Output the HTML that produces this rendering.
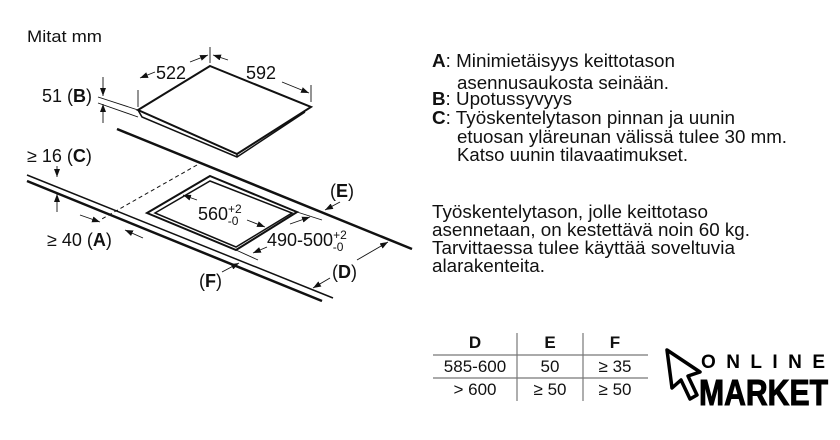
<!DOCTYPE html>
<html><head><meta charset="utf-8"><style>
html,body{margin:0;padding:0;background:#fff;width:840px;height:440px;overflow:hidden}
svg{display:block}
text{font-family:"Liberation Sans",sans-serif;fill:#111}
</style></head><body>
<svg width="840" height="440" viewBox="0 0 840 440" xmlns="http://www.w3.org/2000/svg">
<defs><marker id="ar" markerWidth="8" markerHeight="6" refX="8" refY="3" orient="auto" markerUnits="userSpaceOnUse"><path d="M0,0 L8,3 L0,6z" fill="#111"/></marker></defs>
<text x="27" y="42" font-size="17" textLength="75" lengthAdjust="spacingAndGlyphs">Mitat mm</text>
<g stroke="#111" fill="none">
<path d="M210,66 L311,107 L237,154 L138,110 Z" stroke-width="2"/>
<path d="M138,110 L142,117 L237,157 L305,112" stroke-width="1.5"/>
<line x1="237" y1="154" x2="237" y2="157" stroke-width="1.5"/>
<line x1="117" y1="129" x2="412" y2="249" stroke-width="2.5"/>
<line x1="27" y1="175" x2="333" y2="298" stroke-width="1.5"/>
<line x1="27" y1="181" x2="322" y2="301" stroke-width="2.5"/>
<path d="M210,176 L297,212 L236,250 L147,213 Z" stroke-width="2"/>
<path d="M210,181 L292,213 L236,247 L155,213 Z" stroke-width="1.5"/>
<line x1="197" y1="165" x2="100" y2="220" stroke-width="1" stroke-dasharray="4,3"/>
<g stroke-width="0.9">
<line x1="210" y1="47" x2="210" y2="63"/>
<line x1="138" y1="90" x2="138" y2="107"/>
<line x1="311" y1="85" x2="311" y2="102"/>
<line x1="155" y1="72" x2="140" y2="78" marker-end="url(#ar)"/>
<line x1="190" y1="62" x2="208" y2="55" marker-end="url(#ar)"/>
<line x1="228" y1="60" x2="213" y2="55" marker-end="url(#ar)"/>
<line x1="282" y1="82" x2="309" y2="93" marker-end="url(#ar)"/>
<line x1="98" y1="97" x2="138" y2="110"/>
<line x1="98" y1="103" x2="138" y2="117"/>
<line x1="103" y1="77" x2="103" y2="96" marker-end="url(#ar)"/>
<line x1="103" y1="123" x2="103" y2="104" marker-end="url(#ar)"/>
<line x1="57" y1="166" x2="57" y2="177" marker-end="url(#ar)"/>
<line x1="57" y1="212" x2="57" y2="194" marker-end="url(#ar)"/>
<line x1="80" y1="215" x2="100" y2="222" marker-end="url(#ar)"/>
<line x1="143" y1="238" x2="125" y2="230" marker-end="url(#ar)"/>
<line x1="197" y1="200" x2="183" y2="195" marker-end="url(#ar)"/>
<line x1="247" y1="220" x2="265" y2="227" marker-end="url(#ar)"/>
<line x1="297" y1="212" x2="322" y2="220"/>
<line x1="236" y1="250" x2="258" y2="260"/>
<line x1="290" y1="224" x2="310" y2="217" marker-end="url(#ar)"/>
<line x1="267" y1="247" x2="253" y2="253" marker-end="url(#ar)"/>
<line x1="340" y1="202" x2="325" y2="210" marker-end="url(#ar)"/>
<line x1="357" y1="260" x2="388" y2="242" marker-end="url(#ar)"/>
<line x1="330" y1="278" x2="313" y2="288" marker-end="url(#ar)"/>
<line x1="222" y1="272" x2="239" y2="263" marker-end="url(#ar)"/>
</g>
</g>
<g font-size="18">
<text x="156" y="79">522</text>
<text x="246" y="79">592</text>
<text x="42" y="102">51 (<tspan font-weight="bold">B</tspan>)</text>
<text x="27" y="162">≥ 16 (<tspan font-weight="bold">C</tspan>)</text>
<text x="47" y="246">≥ 40 (<tspan font-weight="bold">A</tspan>)</text>
<text x="198" y="220">560<tspan font-size="12" dy="-7">+2</tspan><tspan font-size="12" dx="-14" dy="12">-0</tspan></text>
<text x="267" y="246">490-500<tspan font-size="12" dy="-7">+2</tspan><tspan font-size="12" dx="-14" dy="12">-0</tspan></text>
<text x="330" y="197">(<tspan font-weight="bold">E</tspan>)</text>
<text x="332" y="278">(<tspan font-weight="bold">D</tspan>)</text>
<text x="199" y="287">(<tspan font-weight="bold">F</tspan>)</text>
</g>
<g font-size="18">
<text x="432" y="67" textLength="243" lengthAdjust="spacingAndGlyphs"><tspan font-weight="bold">A</tspan>: Minimietäisyys keittotason</text>
<text x="457" y="89" textLength="212" lengthAdjust="spacingAndGlyphs">asennusaukosta seinään.</text>
<text x="432" y="105" textLength="140" lengthAdjust="spacingAndGlyphs"><tspan font-weight="bold">B</tspan>: Upotussyvyys</text>
<text x="432" y="124" textLength="303" lengthAdjust="spacingAndGlyphs"><tspan font-weight="bold">C</tspan>: Työskentelytason pinnan ja uunin</text>
<text x="457" y="143" textLength="330" lengthAdjust="spacingAndGlyphs">etuosan yläreunan välissä tulee 30 mm.</text>
<text x="457" y="161" textLength="231" lengthAdjust="spacingAndGlyphs">Katso uunin tilavaatimukset.</text>
<text x="432" y="218" textLength="276" lengthAdjust="spacingAndGlyphs">Työskentelytason, jolle keittotaso</text>
<text x="432" y="236" textLength="318" lengthAdjust="spacingAndGlyphs">asennetaan, on kestettävä noin 60 kg.</text>
<text x="432" y="254" textLength="303" lengthAdjust="spacingAndGlyphs">Tarvittaessa tulee käyttää soveltuvia</text>
<text x="432" y="272" textLength="113" lengthAdjust="spacingAndGlyphs">alarakenteita.</text>
</g>
<g stroke="#777" stroke-width="1.2">
<line x1="433" y1="355" x2="648" y2="355"/>
<line x1="433" y1="378" x2="648" y2="378"/>
<line x1="517" y1="333" x2="517" y2="401"/>
<line x1="583" y1="333" x2="583" y2="401"/>
</g>
<g font-size="17" text-anchor="middle">
<text x="475" y="348" font-weight="bold">D</text><text x="550" y="348" font-weight="bold">E</text><text x="615" y="348" font-weight="bold">F</text>
<text x="475" y="372">585-600</text><text x="550" y="372">50</text><text x="615" y="372">≥ 35</text>
<text x="475" y="395">&gt; 600</text><text x="550" y="395">≥ 50</text><text x="615" y="395">≥ 50</text>
</g>
<path d="M667,350 L700,372 L688,376 L697,395 L690,399 L681,380 L672,388 Z" fill="none" stroke="#000" stroke-width="3.5" stroke-linejoin="round"/>
<text x="701" y="368" font-size="19" font-weight="bold" style="fill:#000" textLength="124" lengthAdjust="spacing">ONLINE</text>
<text x="699" y="405" font-size="36" font-weight="bold" style="fill:#000;stroke:#000;stroke-width:1" textLength="129" lengthAdjust="spacingAndGlyphs">MARKET</text>
</svg>
</body></html>
